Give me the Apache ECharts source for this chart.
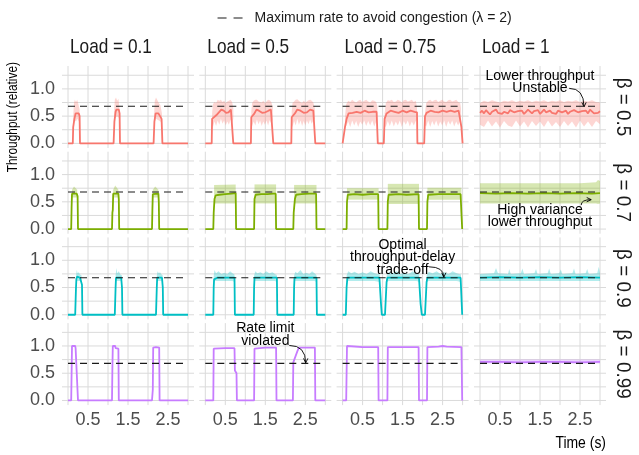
<!DOCTYPE html>
<html><head><meta charset="utf-8">
<script src="https://cdn.jsdelivr.net/npm/echarts@6/dist/echarts.min.js"></script>
<style>html,body{margin:0;padding:0;background:#fff}#c{width:639px;height:455px}</style>
</head><body><div id="c"></div>
<script>
// ---------- data ----------
const loads = ['0.1', '0.5', '0.75', '1'];
const betas = ['0.5', '0.7', '0.9', '0.99'];
const xTickLabels = [0.5, 1.5, 2.5];
const yTickLabels = [0, 0.5, 1];
const xGridValues = [0, 0.5, 1, 1.5, 2, 2.5, 3];
const yGridValues = [0, 0.25, 0.5, 0.75, 1, 1.25];
const congestionRate = 0.68;
const timeRange = [0, 3];
const legendName = 'Maximum rate to avoid congestion (\u03BB = 2)';

// beta = 0.5 (red)
const line_b05_L01 = [[0,0],[0.12,0],[0.13,0.3],[0.16,0.45],[0.19,0.55],[0.22,0.56],[0.27,0.55],[0.29,0.5],[0.3,0],[1.14,0],[1.16,0.4],[1.19,0.58],[1.21,0.62],[1.27,0.62],[1.29,0.55],[1.3,0],[2.14,0],[2.16,0.4],[2.19,0.55],[2.22,0.58],[2.26,0.55],[2.31,0.52],[2.34,0.45],[2.36,0],[3,0]];
const band_b05_L01 = [
  [[0.13,0.3,0.5],[0.15,0.38,0.74],[0.17,0.42,0.8],[0.2,0.4,0.76],[0.23,0.45,0.8],[0.26,0.42,0.72],[0.29,0.38,0.62]],
  [[1.15,0.35,0.55],[1.17,0.45,0.8],[1.2,0.48,0.84],[1.23,0.5,0.78],[1.26,0.48,0.82],[1.29,0.42,0.64]],
  [[2.15,0.3,0.5],[2.17,0.4,0.78],[2.2,0.45,0.84],[2.23,0.44,0.8],[2.27,0.42,0.74],[2.31,0.4,0.7],[2.35,0.35,0.55]]
];
const line_b05_L05 = [[0,0],[0.16,0],[0.17,0.45],[0.22,0.48],[0.28,0.52],[0.34,0.57],[0.4,0.62],[0.46,0.6],[0.52,0.56],[0.58,0.57],[0.64,0.62],[0.68,0.6],[0.7,0],[1.14,0],[1.15,0.48],[1.22,0.54],[1.28,0.62],[1.34,0.6],[1.42,0.56],[1.5,0.57],[1.58,0.6],[1.64,0.62],[1.69,0.6],[1.7,0],[2.15,0],[2.16,0.48],[2.24,0.55],[2.3,0.62],[2.38,0.6],[2.46,0.56],[2.54,0.57],[2.62,0.62],[2.7,0.6],[2.74,0.58],[2.75,0],[3,0]];
const band_b05_L05 = [
  [[0.17,0.35,0.55],[0.19,0.3,0.72],[0.23,0.4,0.76],[0.27,0.32,0.74],[0.31,0.42,0.8],[0.35,0.34,0.78],[0.39,0.45,0.8],[0.43,0.36,0.76],[0.47,0.42,0.78],[0.51,0.33,0.74],[0.55,0.4,0.77],[0.59,0.34,0.78],[0.63,0.44,0.8],[0.67,0.38,0.76],[0.7,0.45,0.65]],
  [[1.15,0.35,0.58],[1.17,0.32,0.74],[1.21,0.4,0.78],[1.25,0.33,0.8],[1.29,0.44,0.8],[1.33,0.35,0.77],[1.37,0.42,0.76],[1.41,0.32,0.75],[1.45,0.4,0.78],[1.49,0.34,0.74],[1.53,0.42,0.77],[1.57,0.33,0.8],[1.61,0.43,0.79],[1.65,0.36,0.76],[1.69,0.44,0.66]],
  [[2.16,0.36,0.58],[2.18,0.3,0.74],[2.22,0.41,0.77],[2.26,0.33,0.8],[2.3,0.45,0.81],[2.34,0.34,0.78],[2.38,0.42,0.76],[2.42,0.32,0.74],[2.46,0.41,0.78],[2.5,0.33,0.75],[2.54,0.42,0.77],[2.58,0.35,0.79],[2.62,0.44,0.8],[2.66,0.36,0.78],[2.7,0.42,0.75],[2.74,0.45,0.64]]
];
const line_b05_L075 = [[0,0],[0.04,0],[0.06,0.3],[0.1,0.45],[0.15,0.55],[0.25,0.56],[0.35,0.58],[0.45,0.56],[0.55,0.6],[0.65,0.57],[0.75,0.58],[0.85,0.58],[0.87,0.55],[0.88,0],[1.03,0],[1.05,0.45],[1.1,0.55],[1.2,0.6],[1.3,0.58],[1.4,0.56],[1.5,0.6],[1.6,0.57],[1.7,0.6],[1.8,0.58],[1.86,0.57],[1.87,0],[2.04,0],[2.06,0.5],[2.1,0.56],[2.2,0.6],[2.3,0.58],[2.4,0.57],[2.5,0.6],[2.6,0.58],[2.7,0.6],[2.8,0.58],[2.9,0.6],[2.95,0.58],[2.97,0.3],[3,0]];
const band_b05_L075 = [
  [[0.06,0.3,0.5],[0.09,0.32,0.72],[0.14,0.4,0.78],[0.19,0.3,0.76],[0.24,0.42,0.8],[0.29,0.33,0.77],[0.34,0.41,0.75],[0.39,0.3,0.78],[0.44,0.4,0.8],[0.49,0.34,0.76],[0.54,0.42,0.78],[0.59,0.32,0.8],[0.64,0.41,0.77],[0.69,0.33,0.75],[0.74,0.42,0.79],[0.79,0.31,0.78],[0.84,0.4,0.76],[0.87,0.42,0.68]],
  [[1.05,0.32,0.55],[1.08,0.3,0.74],[1.13,0.41,0.79],[1.18,0.32,0.78],[1.23,0.42,0.8],[1.28,0.31,0.76],[1.33,0.4,0.77],[1.38,0.33,0.8],[1.43,0.42,0.78],[1.48,0.3,0.75],[1.53,0.41,0.79],[1.58,0.34,0.8],[1.63,0.42,0.77],[1.68,0.31,0.78],[1.73,0.4,0.8],[1.78,0.33,0.76],[1.83,0.41,0.78],[1.86,0.43,0.66]],
  [[2.06,0.33,0.56],[2.09,0.31,0.74],[2.14,0.42,0.78],[2.19,0.3,0.8],[2.24,0.41,0.77],[2.29,0.33,0.79],[2.34,0.42,0.8],[2.39,0.31,0.76],[2.44,0.4,0.78],[2.49,0.33,0.8],[2.54,0.42,0.77],[2.59,0.3,0.76],[2.64,0.41,0.79],[2.69,0.34,0.8],[2.74,0.42,0.77],[2.79,0.31,0.78],[2.84,0.4,0.8],[2.89,0.33,0.76],[2.94,0.42,0.74],[2.96,0.44,0.65]]
];
const line_b05_L1 = [[0,0.56],[0.05,0.6],[0.1,0.55],[0.15,0.61],[0.2,0.57],[0.25,0.53],[0.3,0.58],[0.35,0.6],[0.4,0.62],[0.45,0.56],[0.5,0.59],[0.55,0.54],[0.6,0.58],[0.65,0.6],[0.7,0.55],[0.75,0.61],[0.8,0.62],[0.85,0.57],[0.9,0.54],[0.95,0.59],[1.0,0.56],[1.05,0.6],[1.1,0.54],[1.15,0.58],[1.2,0.62],[1.25,0.6],[1.3,0.55],[1.35,0.59],[1.4,0.56],[1.45,0.61],[1.5,0.54],[1.55,0.58],[1.6,0.62],[1.65,0.57],[1.7,0.55],[1.75,0.6],[1.8,0.56],[1.85,0.59],[1.9,0.54],[1.95,0.6],[2.0,0.62],[2.05,0.57],[2.1,0.55],[2.15,0.6],[2.2,0.54],[2.25,0.58],[2.3,0.56],[2.35,0.61],[2.4,0.63],[2.45,0.57],[2.5,0.54],[2.55,0.59],[2.6,0.56],[2.65,0.6],[2.7,0.55],[2.75,0.62],[2.8,0.6],[2.85,0.55],[2.9,0.58],[2.95,0.56],[3.0,0.59]];
const band_b05_L1 = [
  [[0,0.34,0.74],[0.1,0.3,0.78],[0.2,0.42,0.76],[0.3,0.31,0.79],[0.4,0.4,0.77],[0.5,0.29,0.75],[0.6,0.41,0.78],[0.7,0.33,0.77],[0.8,0.3,0.79],[0.9,0.42,0.76],[1.0,0.31,0.78],[1.1,0.4,0.77],[1.2,0.29,0.79],[1.3,0.41,0.76],[1.4,0.32,0.78],[1.5,0.4,0.77],[1.6,0.3,0.79],[1.7,0.42,0.76],[1.8,0.31,0.78],[1.9,0.39,0.77],[2.0,0.3,0.79],[2.1,0.41,0.76],[2.2,0.32,0.78],[2.3,0.4,0.77],[2.4,0.29,0.79],[2.5,0.42,0.76],[2.6,0.31,0.78],[2.7,0.4,0.77],[2.8,0.3,0.79],[2.9,0.41,0.76],[3.0,0.35,0.75]]
];

// beta = 0.7 (green)
const line_b07_L01 = [[0,0],[0.08,0],[0.09,0.4],[0.1,0.65],[0.14,0.66],[0.22,0.65],[0.24,0.6],[0.25,0],[1.1,0],[1.11,0.3],[1.12,0.35],[1.13,0.65],[1.26,0.65],[1.27,0.55],[1.28,0],[2.1,0],[2.11,0.35],[2.12,0.64],[2.26,0.65],[2.27,0.5],[2.28,0],[3,0]];
const band_b07_L01 = [
  [[0.1,0.58,0.72],[0.15,0.58,0.78],[0.23,0.58,0.72]],
  [[1.13,0.58,0.72],[1.18,0.58,0.8],[1.26,0.58,0.72]],
  [[2.12,0.58,0.72],[2.18,0.58,0.78],[2.26,0.58,0.72]]
];
const line_b07_L05 = [[0,0],[0.2,0],[0.21,0.3],[0.23,0.55],[0.26,0.62],[0.35,0.63],[0.5,0.64],[0.65,0.65],[0.76,0.66],[0.77,0],[1.22,0],[1.23,0.55],[1.26,0.63],[1.4,0.64],[1.55,0.64],[1.7,0.65],[1.76,0.65],[1.77,0],[2.2,0],[2.21,0.3],[2.24,0.55],[2.27,0.63],[2.4,0.64],[2.6,0.65],[2.77,0.65],[2.78,0],[3,0]];
const band_b07_L05 = [
  [[0.22,0.47,0.81],[0.76,0.47,0.82]],
  [[1.23,0.47,0.82],[1.77,0.47,0.82]],
  [[2.22,0.47,0.81],[2.78,0.47,0.81]]
];
const line_b07_L075 = [[0,0],[0.1,0],[0.11,0.5],[0.13,0.63],[0.3,0.64],[0.5,0.63],[0.7,0.64],[0.89,0.64],[0.9,0],[1.12,0],[1.13,0.5],[1.15,0.63],[1.4,0.64],[1.6,0.63],[1.9,0.64],[1.91,0],[2.11,0],[2.12,0.5],[2.14,0.63],[2.4,0.64],[2.6,0.64],[2.95,0.64],[2.97,0.3],[2.99,0],[3,0]];
const band_b07_L075 = [
  [[0.11,0.54,0.75],[0.9,0.54,0.75]],
  [[1.13,0.46,0.83],[1.91,0.46,0.83]],
  [[2.12,0.54,0.76],[2.97,0.54,0.76]]
];
const line_b07_L1 = [[0,0.66],[0.4,0.65],[0.8,0.66],[1.2,0.65],[1.6,0.66],[2.0,0.65],[2.4,0.66],[2.8,0.65],[3,0.66]];
const band_b07_L1 = [
  [[0,0.47,0.84],[0.5,0.47,0.84],[1,0.47,0.84],[1.5,0.47,0.84],[2,0.47,0.84],[2.5,0.47,0.84],[2.9,0.47,0.86],[2.95,0.46,0.9],[3,0.47,0.88]]
];

// beta = 0.9 (cyan)
const line_b09_L01 = [[0,0],[0.18,0],[0.2,0.5],[0.21,0.66],[0.23,0.7],[0.3,0.68],[0.33,0.67],[0.35,0.55],[0.36,0],[1.17,0],[1.19,0.5],[1.2,0.68],[1.25,0.7],[1.33,0.68],[1.35,0.5],[1.36,0],[2.2,0],[2.22,0.5],[2.23,0.68],[2.28,0.7],[2.35,0.68],[2.37,0.5],[2.38,0],[3,0]];
const band_b09_L01 = [
  [[0.2,0.6,0.72],[0.22,0.62,0.82],[0.24,0.62,0.76],[0.27,0.62,0.78],[0.3,0.62,0.74],[0.34,0.6,0.72]],
  [[1.19,0.6,0.72],[1.21,0.62,0.86],[1.23,0.62,0.76],[1.27,0.62,0.8],[1.31,0.62,0.74],[1.35,0.6,0.72]],
  [[2.22,0.6,0.72],[2.24,0.62,0.8],[2.27,0.62,0.76],[2.3,0.62,0.78],[2.34,0.62,0.74],[2.37,0.6,0.72]]
];
const line_b09_L05 = [[0,0],[0.2,0],[0.21,0.5],[0.22,0.65],[0.26,0.64],[0.3,0.68],[0.5,0.68],[0.73,0.68],[0.74,0],[1.21,0],[1.22,0.5],[1.23,0.68],[1.5,0.68],[1.79,0.68],[1.8,0],[2.21,0],[2.22,0.5],[2.23,0.68],[2.5,0.68],[2.78,0.68],[2.79,0],[3,0]];
const band_b09_L05 = [
  [[0.21,0.6,0.72],[0.23,0.62,0.82],[0.27,0.62,0.76],[0.33,0.62,0.8],[0.4,0.62,0.75],[0.48,0.62,0.77],[0.55,0.62,0.75],[0.62,0.62,0.8],[0.68,0.62,0.76],[0.73,0.6,0.74]],
  [[1.22,0.6,0.72],[1.25,0.62,0.8],[1.3,0.62,0.76],[1.38,0.62,0.78],[1.45,0.62,0.75],[1.52,0.62,0.8],[1.6,0.62,0.76],[1.68,0.62,0.78],[1.74,0.62,0.75],[1.79,0.6,0.73]],
  [[2.22,0.6,0.72],[2.25,0.62,0.79],[2.3,0.62,0.76],[2.38,0.62,0.82],[2.45,0.62,0.75],[2.52,0.62,0.77],[2.6,0.62,0.75],[2.67,0.62,0.8],[2.73,0.62,0.76],[2.78,0.6,0.73]]
];
const line_b09_L075 = [[0,0],[0.08,0],[0.1,0.5],[0.12,0.68],[0.5,0.68],[0.92,0.68],[0.96,0.2],[0.98,0],[1.06,0],[1.1,0.6],[1.12,0.68],[1.5,0.68],[1.91,0.68],[1.95,0.2],[1.98,0],[2.06,0],[2.1,0.6],[2.12,0.68],[2.5,0.68],[2.95,0.68],[2.99,0],[3,0]];
const band_b09_L075 = [
  [[0.1,0.6,0.72],[0.14,0.62,0.8],[0.22,0.62,0.76],[0.3,0.62,0.79],[0.4,0.62,0.75],[0.5,0.62,0.78],[0.6,0.62,0.75],[0.7,0.62,0.8],[0.8,0.62,0.76],[0.93,0.6,0.74]],
  [[1.1,0.6,0.72],[1.15,0.62,0.78],[1.25,0.62,0.76],[1.35,0.62,0.8],[1.45,0.62,0.75],[1.55,0.62,0.77],[1.65,0.62,0.75],[1.75,0.62,0.8],[1.85,0.62,0.76],[1.92,0.6,0.74]],
  [[2.1,0.6,0.72],[2.15,0.62,0.79],[2.25,0.62,0.76],[2.35,0.62,0.8],[2.45,0.62,0.75],[2.55,0.62,0.78],[2.65,0.62,0.75],[2.75,0.62,0.8],[2.85,0.62,0.76],[2.96,0.6,0.74]]
];
const line_b09_L1 = [[0,0.68],[0.5,0.69],[1,0.68],[1.5,0.69],[2,0.68],[2.5,0.69],[3,0.68]];
const band_b09_L1 = [
  [[0,0.62,0.75],[0.35,0.62,0.76],[0.4,0.62,0.86],[0.45,0.62,0.76],[0.7,0.62,0.75],[0.73,0.62,0.84],[0.77,0.62,0.75],[1.02,0.62,0.76],[1.06,0.62,0.85],[1.1,0.62,0.75],[1.36,0.62,0.76],[1.4,0.62,0.84],[1.44,0.62,0.75],[1.69,0.62,0.76],[1.73,0.62,0.85],[1.77,0.62,0.75],[1.98,0.62,0.76],[2.02,0.62,0.83],[2.06,0.62,0.75],[2.31,0.62,0.76],[2.35,0.62,0.85],[2.39,0.62,0.75],[2.64,0.62,0.76],[2.68,0.62,0.84],[2.72,0.62,0.75],[2.93,0.62,0.76],[2.97,0.62,0.88],[3,0.62,0.76]]
];

// beta = 0.99 (purple)
const line_b099_L01 = [[0,0],[0.08,0],[0.09,0.5],[0.1,1.0],[0.18,1.0],[0.19,0.96],[0.24,0.95],[0.25,0],[1.1,0],[1.11,0.6],[1.12,1.0],[1.18,1.0],[1.19,0.96],[1.26,0.95],[1.27,0],[2.1,0],[2.12,0.2],[2.13,0.97],[2.2,0.98],[2.28,0.97],[2.29,0],[3,0]];
const band_b099_L01 = [];
const line_b099_L05 = [[0,0],[0.2,0],[0.21,0.95],[0.5,0.96],[0.73,0.96],[0.74,0.55],[0.78,0.5],[0.79,0],[1.22,0],[1.23,0.95],[1.26,0.97],[1.5,0.97],[1.77,0.97],[1.78,0],[2.19,0],[2.2,0.7],[2.3,0.9],[2.34,0.97],[2.38,0.99],[2.42,0.97],[2.74,0.97],[2.75,0],[3,0]];
const band_b099_L05 = [];
const line_b099_L075 = [[0,0],[0.09,0],[0.11,1.0],[0.5,0.98],[0.89,0.98],[0.9,0],[1.12,0],[1.13,0.98],[1.5,0.98],[1.9,0.98],[1.91,0],[2.11,0],[2.12,0.98],[2.4,0.99],[2.5,1.0],[2.6,0.99],[2.97,0.98],[2.99,0],[3,0]];
const band_b099_L075 = [];
const line_b099_L1 = [[0,0.71],[0.5,0.71],[1,0.7],[1.5,0.71],[2,0.71],[2.5,0.7],[3,0.71]];
const band_b099_L1 = [[[0,0.68,0.75],[3,0.68,0.75]]];

// ---------- assembly ----------
const lineData = [
  [line_b05_L01, line_b05_L05, line_b05_L075, line_b05_L1],
  [line_b07_L01, line_b07_L05, line_b07_L075, line_b07_L1],
  [line_b09_L01, line_b09_L05, line_b09_L075, line_b09_L1],
  [line_b099_L01, line_b099_L05, line_b099_L075, line_b099_L1]
];
const bandData = [
  [band_b05_L01, band_b05_L05, band_b05_L075, band_b05_L1],
  [band_b07_L01, band_b07_L05, band_b07_L075, band_b07_L1],
  [band_b09_L01, band_b09_L05, band_b09_L075, band_b09_L1],
  [band_b099_L01, band_b099_L05, band_b099_L075, band_b099_L1]
];

const FONT = '"Liberation Sans", Arial, Helvetica, sans-serif';
const COND = 0.82; // horizontal squeeze to imitate the condensed face of the original
const lineColors = ['#F8766D', '#7CAE00', '#00BFC4', '#C77CFF'];
const bandColors = ['rgba(248,118,109,0.30)', 'rgba(124,174,0,0.30)', 'rgba(0,191,196,0.30)', 'rgba(199,124,255,0.30)'];
const colLeft = [62, 199.3, 336.6, 474];
const rowTop = [66, 151.7, 237.4, 323.1];
const panelW = 132, panelH = 82;
const gridColor = '#dadada';

const grids = [], xAxes = [], yAxes = [], series = [];
for (let r = 0; r < 4; r++) {
  for (let c = 0; c < 4; c++) {
    const idx = r * 4 + c;
    grids.push({ left: colLeft[c], top: rowTop[r], width: panelW, height: panelH });
    xAxes.push({
      type: 'value', gridIndex: idx, min: -0.15, max: 3.15,
      axisLine: { show: false }, axisTick: { show: false }, splitLine: { show: false },
      axisLabel: { show: r === 3, customValues: xTickLabels, margin: 6, color: '#4d4d4d',
        fontSize: 18, fontFamily: FONT, formatter: v => v.toFixed(1) }
    });
    yAxes.push({
      type: 'value', gridIndex: idx, min: -0.085, max: 1.42,
      axisLine: { show: false }, axisTick: { show: false }, splitLine: { show: false },
      axisLabel: { show: c === 0, customValues: yTickLabels, margin: 7, color: '#4d4d4d',
        fontSize: 18, fontFamily: FONT, formatter: v => v.toFixed(1) }
    });
    // grid lines
    series.push({
      type: 'custom', xAxisIndex: idx, yAxisIndex: idx, silent: true, z: 0,
      data: xGridValues.map(v => [v, 0]),
      renderItem: (params, api) => {
        const p = api.coord([api.value(0), api.value(1)]);
        const cs = params.coordSys;
        return { type: 'line', shape: { x1: p[0], y1: cs.y, x2: p[0], y2: cs.y + cs.height },
          style: { stroke: gridColor, lineWidth: 1 } };
      }
    });
    series.push({
      type: 'custom', xAxisIndex: idx, yAxisIndex: idx, silent: true, z: 0,
      data: yGridValues.map(v => [0, v]),
      renderItem: (params, api) => {
        const p = api.coord([api.value(0), api.value(1)]);
        const cs = params.coordSys;
        return { type: 'line', shape: { x1: cs.x, y1: p[1], x2: cs.x + cs.width, y2: p[1] },
          style: { stroke: gridColor, lineWidth: 1 } };
      }
    });
    // band
    const segs = bandData[r][c];
    if (segs.length) {
      series.push({
        type: 'custom', xAxisIndex: idx, yAxisIndex: idx, silent: true, z: 1,
        data: segs.map((s, i) => [s[0][0], s[0][1], i]),
        encode: { x: 0, y: 1 },
        renderItem: (params, api) => {
          const seg = segs[api.value(2)];
          const pts = [];
          seg.forEach(d => pts.push(api.coord([d[0], d[2]])));
          for (let k = seg.length - 1; k >= 0; k--) pts.push(api.coord([seg[k][0], seg[k][1]]));
          return { type: 'polygon', shape: { points: pts }, style: { fill: bandColors[r] } };
        }
      });
    }
    // main line
    series.push({
      type: 'line', xAxisIndex: idx, yAxisIndex: idx, data: lineData[r][c],
      showSymbol: false, symbol: 'none', silent: true, z: 2,
      lineStyle: { color: lineColors[r], width: 1.8 }, itemStyle: { color: lineColors[r] }
    });
    // congestion limit
    series.push({
      name: legendName, type: 'line', xAxisIndex: idx, yAxisIndex: idx,
      data: [[timeRange[0], congestionRate], [timeRange[1], congestionRate]],
      showSymbol: false, symbol: 'none', silent: true, z: 3,
      lineStyle: { color: '#1a1a1a', width: 1.1, type: [7, 5] }, itemStyle: { color: '#1a1a1a' }
    });
  }
}

const chart = echarts.init(document.getElementById('c'), null, { renderer: 'canvas', width: 639, height: 455 });
chart.setOption({
  backgroundColor: '#ffffff',
  animation: false,
  legend: {
    data: [legendName], left: 212, top: 6, itemWidth: 25, itemHeight: 14,
    itemStyle: { color: 'transparent', borderWidth: 0, opacity: 0 },
    lineStyle: { type: [9, 7], width: 1.1, color: '#1a1a1a' },
    textStyle: { fontSize: 14, fontFamily: FONT, color: '#1a1a1a', padding: [0, 0, 0, 7] }
  },
  grid: grids, xAxis: xAxes, yAxis: yAxes, series: series
});

// ---------- text & annotations ----------
const annotations = [
  { panel: [0, 3], text: 'Lower throughput\nUnstable', at: [1.5, 1.12], from: [2.23, 1.01], to: [2.6, 0.67], bend: 'hv' },
  { panel: [1, 3], text: 'High variance\nlower throughput', at: [1.5, 0.24], from: [2.53, 0.44], to: [2.78, 0.54], bend: 'vh' },
  { panel: [2, 2], text: 'Optimal\nthroughput-delay\ntrade-off', at: [1.5, 1.05], from: [2.16, 0.88], to: [2.53, 0.69], bend: 'hv' },
  { panel: [3, 1], text: 'Rate limit\nviolated', at: [1.5, 1.21], from: [2.1, 1.01], to: [2.51, 0.69], bend: 'hv' }
];

const graphics = [];
loads.forEach((L, c) => {
  graphics.push({ type: 'text', x: colLeft[c] + 8, y: 47, scaleX: COND, silent: true,
    style: { text: 'Load = ' + L, fontSize: 21, fontFamily: FONT, fill: '#1a1a1a', align: 'left', verticalAlign: 'middle' } });
});
betas.forEach((b, r) => {
  graphics.push({ type: 'text', x: 623, y: rowTop[r] + panelH / 2, rotation: -Math.PI / 2, scaleX: 0.9, silent: true,
    style: { text: '\u03B2 = ' + b, fontSize: 21, fontFamily: FONT, fill: '#1a1a1a', align: 'center', verticalAlign: 'middle' } });
});
graphics.push({ type: 'text', x: 13, y: 62, rotation: Math.PI / 2, scaleX: COND, silent: true,
  style: { text: 'Throughput (relative)', fontSize: 14.5, fontFamily: FONT, fill: '#000', align: 'right', verticalAlign: 'middle' } });
graphics.push({ type: 'text', x: colLeft[3] + panelW, y: 443, scaleX: COND, silent: true,
  style: { text: 'Time (s)', fontSize: 17, fontFamily: FONT, fill: '#000', align: 'right', verticalAlign: 'middle' } });

annotations.forEach(a => {
  const gi = a.panel[0] * 4 + a.panel[1];
  const t = chart.convertToPixel({ gridIndex: gi }, a.at);
  graphics.push({ type: 'text', x: t[0], y: t[1], silent: true, z: 10,
    style: { text: a.text, fontSize: 14, lineHeight: 12.3, fontFamily: FONT, fill: '#000', align: 'center', verticalAlign: 'middle' } });
  const p0 = chart.convertToPixel({ gridIndex: gi }, a.from);
  const p1 = chart.convertToPixel({ gridIndex: gi }, a.to);
  const cp = a.bend === 'hv' ? [p1[0], p0[1]] : [p0[0], p1[1]];
  graphics.push({ type: 'bezierCurve', silent: true, z: 10,
    shape: { x1: p0[0], y1: p0[1], x2: p1[0], y2: p1[1], cpx1: cp[0], cpy1: cp[1] },
    style: { stroke: '#000', lineWidth: 0.9, fill: null } });
  const ang = Math.atan2(p1[1] - cp[1], p1[0] - cp[0]);
  const len = 5, spread = 0.45;
  const a1 = [p1[0] - len * Math.cos(ang - spread), p1[1] - len * Math.sin(ang - spread)];
  const a2 = [p1[0] - len * Math.cos(ang + spread), p1[1] - len * Math.sin(ang + spread)];
  graphics.push({ type: 'polyline', silent: true, z: 10,
    shape: { points: [a1, p1, a2] }, style: { stroke: '#000', lineWidth: 0.9, fill: null } });
});
chart.setOption({ graphic: graphics });
</script></body></html>
